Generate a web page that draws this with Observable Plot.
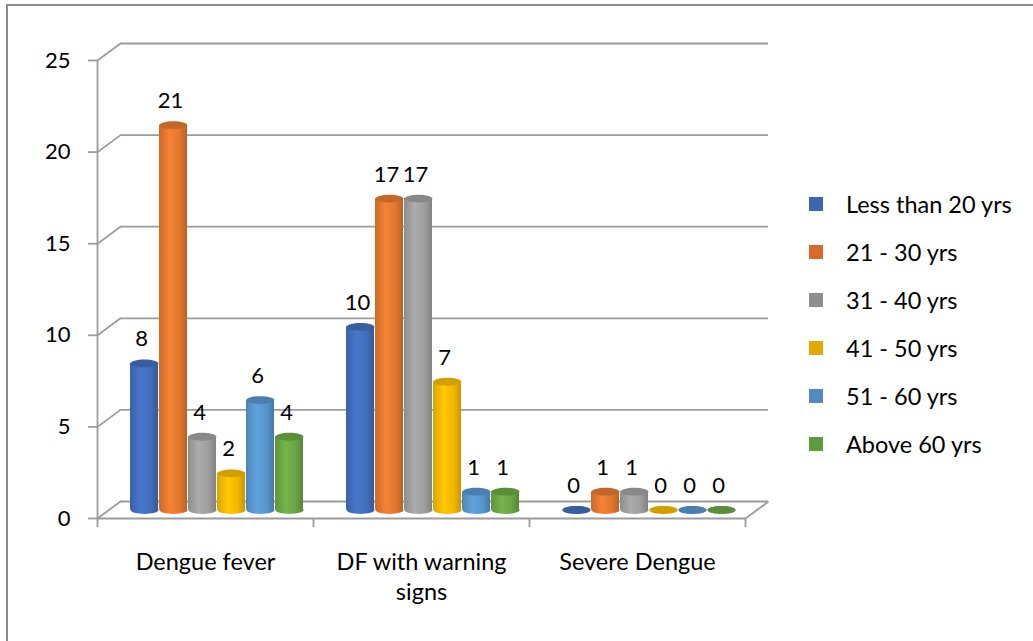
<!DOCTYPE html>
<html><head><meta charset="utf-8">
<script src="https://cdn.jsdelivr.net/npm/d3@7"></script>
<script src="https://cdn.jsdelivr.net/npm/@observablehq/plot@0.6"></script>
<style>
html,body{margin:0;padding:0;background:#fff;overflow:hidden}
#wrap{position:relative;width:1033px;height:641px;font-family:Lato,"Open Sans",sans-serif}
#border{position:absolute;left:6px;top:4px;width:1100px;height:700px;border-left:2px solid #8c8c8c;border-top:2px solid #8c8c8c;box-sizing:border-box}
#chart{position:absolute;left:0;top:0}
#legend{position:absolute;left:809px;top:180px;font-size:23.5px;color:#000;font-family:Lato,"Open Sans",sans-serif}
.row{display:flex;align-items:center;height:48px;white-space:nowrap}
.sw{width:14px;height:14px;margin-right:23px;flex:none}
</style></head><body>
<div id="wrap"><div id="border"></div><div id="chart"></div><div id="legend"></div></div>
<script>
// ---- data ----
const categories = ["Dengue fever", "DF with warning signs", "Severe Dengue"];
const categoryLabels = ["Dengue fever", "DF with warning\nsigns", "Severe Dengue"];
const series = ["Less than 20 yrs", "21 - 30 yrs", "31 - 40 yrs", "41 - 50 yrs", "51 - 60 yrs", "Above 60 yrs"];
const lessThan20 = [8, 10, 0];
const age21to30 = [21, 17, 1];
const age31to40 = [4, 17, 1];
const age41to50 = [2, 7, 0];
const age51to60 = [6, 1, 0];
const above60 = [4, 1, 0];
const yTicks = [0, 5, 10, 15, 20, 25];

const values = [lessThan20, age21to30, age31to40, age41to50, age51to60, above60];

// ---- styles / layout ----
const baseColors = ["#4472c4", "#ed7d31", "#a5a5a5", "#ffc000", "#5b9bd5", "#70ad47"];
const legendColors = ["#3d66b0", "#d86b2a", "#8f8f8f", "#e2a900", "#4f8ac2", "#5f9a3e"];
const gridColor = "#9c9c9c";
const W = 1033, H = 641, mL = 97, mR = 288, mT = 60, mB = 123;
const pxX = (W - mL - mR) / 3, pxY = (H - mT - mB) / 25;
const depthPxX = 23, depthPxY = 17;
const dX = depthPxX / pxX, dY = depthPxY / pxY;
const step = 29 / pxX, barW = 28 / pxX;
const barDx = depthPxX / 2, barDy = -depthPxY / 2;

const rows = categories.flatMap((c, i) => series.map((s, j) => ({
  i, j, category: c, series: s, value: values[j][i], xc: i + 0.5 + (j - 2.5) * step
})));

const ellipse = {
  draw(ctx, size) {
    const rx = Math.sqrt(size / Math.PI), ry = rx * 0.28, k = 0.5523;
    ctx.moveTo(rx, 0);
    ctx.bezierCurveTo(rx, ry * k, rx * k, ry, 0, ry);
    ctx.bezierCurveTo(-rx * k, ry, -rx, ry * k, -rx, 0);
    ctx.bezierCurveTo(-rx, -ry * k, -rx * k, -ry, 0, -ry);
    ctx.bezierCurveTo(rx * k, -ry, rx, -ry * k, rx, 0);
    ctx.closePath();
  }
};

const barMarks = series.flatMap((s, j) => {
  const data = rows.filter(d => d.j === j);
  const top = d3.color(baseColors[j]).darker(0.55).formatHex();
  return [
    Plot.dot(data, {x: "xc", y: 0, r: barW * pxX / 2, symbol: ellipse, fill: `url(#cyl${j})`, dx: barDx, dy: barDy}),
    Plot.rect(data.filter(d => d.value > 0), {x1: d => d.xc - barW / 2, x2: d => d.xc + barW / 2, y1: 0, y2: "value", fill: `url(#cyl${j})`, dx: barDx, dy: barDy}),
    Plot.dot(data, {x: "xc", y: "value", r: barW * pxX / 2, symbol: ellipse, fill: top, dx: barDx, dy: barDy})
  ];
});

const svg = Plot.plot({
  width: W, height: H,
  marginLeft: mL, marginRight: mR, marginTop: mT, marginBottom: mB,
  style: {fontFamily: "Lato, 'Open Sans', sans-serif", fontSize: "22px", background: "transparent", color: "#000"},
  x: {type: "linear", domain: [0, 3], axis: null},
  y: {domain: [0, 25], axis: null},
  marks: [
    // back wall gridlines
    Plot.ruleY(yTicks, {y: d => d + dY, x1: dX, x2: 3 + dX, stroke: gridColor, strokeWidth: 1.8}),
    // side wall diagonals
    Plot.link(yTicks, {x1: 0, y1: d => d, x2: dX, y2: d => d + dY, stroke: gridColor, strokeWidth: 1.8}),
    // floor front edge and right side
    Plot.ruleY([0], {x1: 0, x2: 3, stroke: gridColor, strokeWidth: 1.8}),
    Plot.link([0], {x1: 3, y1: 0, x2: 3 + dX, y2: dY, stroke: gridColor, strokeWidth: 1.8}),
    // front vertical axis
    Plot.ruleX([0], {y1: 0, y2: 25, stroke: gridColor, strokeWidth: 1.8}),
    // category ticks
    Plot.ruleX([0, 1, 2, 3], {y1: 0, y2: -9 / pxY, stroke: gridColor, strokeWidth: 1.8}),
    Plot.axisY({ticks: yTicks, tickSize: 9, tickPadding: 18, fontSize: 22, stroke: gridColor, strokeWidth: 1.8, fill: "#000", label: null, tickFormat: d => String(d)}),
    ...barMarks,
    // value labels
    Plot.text(rows, {x: "xc", y: "value", text: d => String(d.value), dx: barDx - 3, dy: barDy - 24, fontSize: 22, fill: "#000"}),
    // category labels
    Plot.text(categories, {x: (d, i) => i + 0.5, y: 0, text: (d, i) => categoryLabels[i], dy: 31, lineAnchor: "top", lineHeight: 1.25, fontSize: 23.5, fill: "#000"})
  ]
});

// cylinder gradients
const defs = d3.select(svg).insert("defs", ":first-child");
baseColors.forEach((c, j) => {
  const g = defs.append("linearGradient").attr("id", `cyl${j}`).attr("x1", 0).attr("x2", 1).attr("y1", 0).attr("y2", 0);
  const base = d3.color(c);
  g.append("stop").attr("offset", "0%").attr("stop-color", base.darker(0.45).formatHex());
  g.append("stop").attr("offset", "38%").attr("stop-color", base.brighter(0.12).formatHex());
  g.append("stop").attr("offset", "75%").attr("stop-color", base.darker(0.15).formatHex());
  g.append("stop").attr("offset", "100%").attr("stop-color", base.darker(0.7).formatHex());
});

document.getElementById("chart").appendChild(svg);

// legend
const legend = d3.select("#legend");
series.forEach((s, j) => {
  const row = legend.append("div").attr("class", "row");
  row.append("div").attr("class", "sw").style("background", legendColors[j]);
  row.append("span").text(s);
});
</script>
</body></html>
